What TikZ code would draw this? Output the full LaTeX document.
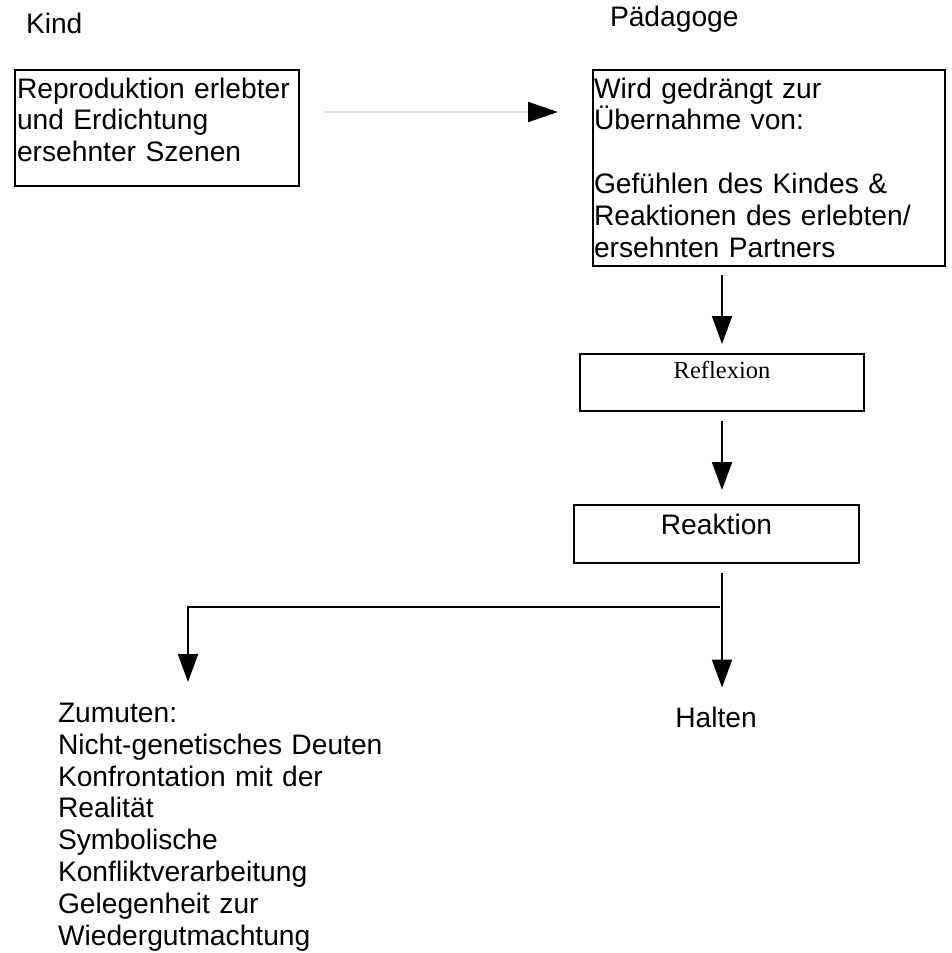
\documentclass[tikz,border=0pt]{standalone}
\usepackage{fontspec}
\setmainfont{Liberation Sans}
\newfontfamily\reflexfont{Liberation Serif}
\usetikzlibrary{arrows.meta,positioning}

\begin{document}
\begin{tikzpicture}[x=1pt,y=-1pt,every node/.style={font=\fontsize{28.2}{31.8}\selectfont},line width=2pt]
\tikzset{box/.style={draw,rectangle,anchor=north west,inner sep=0pt},
  arr/.style={-{Triangle[length=28pt,width=20pt]}},
  grayarr/.style={draw=black!14,line width=2pt,-{Triangle[length=30pt,width=20pt,color=black]}}}
\useasboundingbox (0,0) rectangle (952,953);

% ---------- Kopf ----------
\node[anchor=base west,inner sep=0pt] (kind) at (25,33) {Kind};
\node[anchor=base west,inner sep=0pt] (paed) at (609,27) {Pädagoge};

% ---------- Kästen ----------
\node[box,inner xsep=2pt,text width=280pt,align=left,text height=28pt,text depth=88pt] (repro) at (14,69)
  {Reproduktion erlebter\\und Erdichtung\\ersehnter Szenen};
\node[box,inner xsep=1pt,text width=350pt,align=left,text height=28pt,text depth=168pt] (uebern) at (592,69)
  {Wird gedrängt zur\\Übernahme von:\\[31.8pt]Gefühlen des Kindes \&\\Reaktionen des erlebten/\\ersehnten Partners};
\node[box,minimum width=284pt,text height=24pt,text depth=33pt,font=\reflexfont\fontsize{24.5}{28}\selectfont] (reflex) at (579,353) {Reflexion};
\node[box,minimum width=285pt,text height=29pt,text depth=29pt] (reakt) at (573,504) {Reaktion};

% ---------- Ende ----------
\node[anchor=base,inner sep=0pt] (halten) at (716,727) {Halten};
\node[anchor=north west,inner sep=0pt,text width=345pt,align=left] (zumut) at (57,702)
  {Zumuten:\\Nicht-genetisches Deuten\\Konfrontation mit der\\Realität\\Symbolische\\Konfliktverarbeitung\\Gelegenheit zur\\Wiedergutmachtung};

\coordinate (split) at (720,607);
\coordinate (zTip) at (188,682);

% ---------- Pfeile ----------
\draw[grayarr,shorten <=24pt,shorten >=34pt] ([yshift=16pt]repro.east) -- ([yshift=16pt]repro.east -| uebern.west);
\draw[arr,shorten <=8pt,shorten >=9pt] (uebern.south -| reflex.north) -- (reflex.north);
\draw[arr,shorten <=9pt,shorten >=14pt] (reflex.south) -- (reflex.south |- reakt.north);
\draw[arr,shorten <=9pt,shorten >=18pt] (reflex.south |- reakt.south) -- (reflex.south |- halten.north);
\draw[arr] (split) -| (zTip);

\end{tikzpicture}
\end{document}
